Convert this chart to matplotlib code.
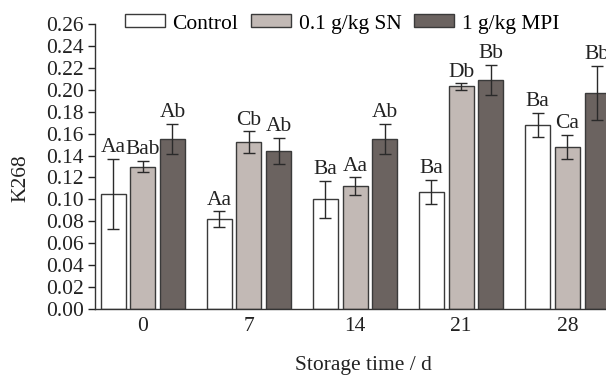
import numpy as np
import matplotlib
matplotlib.use("Agg")
import matplotlib.pyplot as plt

plt.rcParams['font.family'] = ['Liberation Serif', 'DejaVu Serif']

days = ["0", "7", "14", "21", "28"]
series = ["Control", "0.1 g/kg SN", "1 g/kg MPI"]
control = [0.105, 0.082, 0.100, 0.107, 0.168]
control_err = [0.032, 0.007, 0.017, 0.011, 0.011]
sn = [0.130, 0.152, 0.112, 0.203, 0.148]
sn_err = [0.005, 0.010, 0.008, 0.003, 0.011]
mpi = [0.155, 0.144, 0.155, 0.209, 0.197]
mpi_err = [0.014, 0.012, 0.014, 0.014, 0.025]
control_lab = ["Aa", "Aa", "Ba", "Ba", "Ba"]
sn_lab = ["Bab", "Cb", "Aa", "Db", "Ca"]
mpi_lab = ["Ab", "Ab", "Ab", "Bb", "Bb"]

colors = ["#ffffff", "#c2b9b5", "#6b6360"]
values = [control, sn, mpi]
errors = [control_err, sn_err, mpi_err]
labels = [control_lab, sn_lab, mpi_lab]
fs = 15.5

fig = plt.figure(figsize=(6.06, 3.76), dpi=100)
ax = fig.add_axes([95 / 606, 1 - 309 / 376, (631 - 95) / 606, 285 / 376])

x = np.arange(len(days))
w = 0.235
offs = [-0.28, 0.0, 0.28]
for vals, errs, labs, col, off, name in zip(values, errors, labels, colors, offs, series):
    ax.bar(x + off, vals, w, color=col, edgecolor="#3a3a3a", linewidth=1.0, label=name,
           yerr=errs, error_kw=dict(ecolor="#2a2a2a", elinewidth=1.0, capsize=4, capthick=1.0))
    for xi, v, e, t in zip(x + off, vals, errs, labs):
        ax.text(xi, v + e + 0.0015, t, ha="center", va="bottom", fontsize=fs, color="#222222")

ax.set_xlim(-0.45, 4.6)
ax.set_ylim(0, 0.26)
ax.set_yticks(np.arange(0, 0.261, 0.02))
ax.set_yticklabels([f"{t:.2f}" for t in np.arange(0, 0.261, 0.02)])
ax.set_xticks(x)
ax.set_xticklabels(days)
ax.tick_params(axis="y", direction="out", length=5, width=1, labelsize=fs, colors="#222222", pad=3)
ax.tick_params(axis="x", length=0, labelsize=fs, pad=6, colors="#222222")
for s in ["top", "right"]:
    ax.spines[s].set_visible(False)
for s in ["left", "bottom"]:
    ax.spines[s].set_color("#333333")
    ax.spines[s].set_linewidth(1.0)

ax.set_ylabel("K268", fontsize=fs, color="#222222", labelpad=11)
ax.yaxis.label.set_y(0.46)
ax.set_xlabel("Storage time / d", fontsize=fs, color="#222222", labelpad=14)

ax.legend(loc="center left", bbox_to_anchor=(125 / 606, 1 - 24 / 376), bbox_transform=fig.transFigure,
          ncol=3, frameon=False, fontsize=fs, handlelength=1.85, handleheight=0.55,
          handletextpad=0.35, columnspacing=0.6, borderaxespad=0, borderpad=0)

fig.savefig("out.png", dpi=100)
